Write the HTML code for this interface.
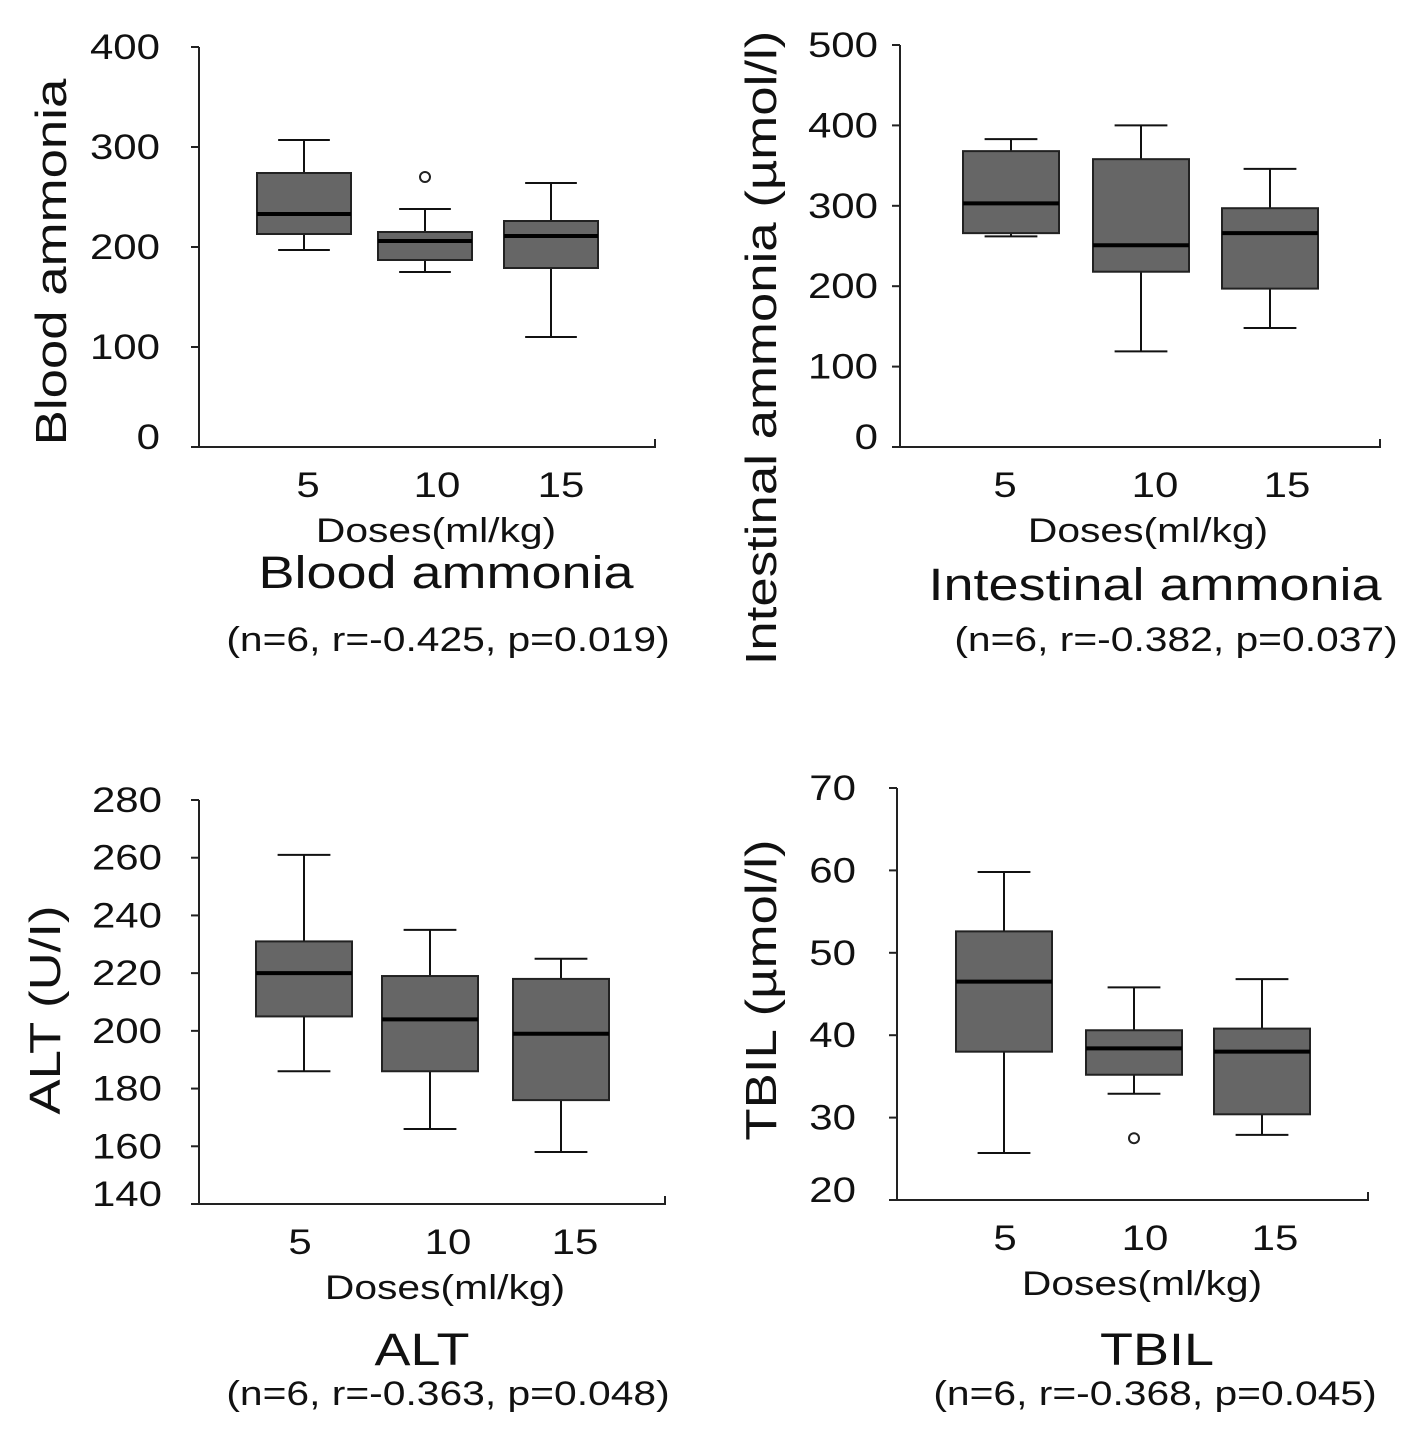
<!DOCTYPE html>
<html><head><meta charset="utf-8"><style>
body{margin:0;background:#fff}
svg text{font-family:"Liberation Sans",Arial,sans-serif;fill:#111}
</style></head><body>
<svg id="s" width="1417" height="1437" viewBox="0 0 1417 1437"></svg>
<script>
const categories=["5","10","15"];
const bloodStats=[[197,213,233,274,307],[175,187,206,215,238],[110,179,211,226,264]];
const bloodOutliers=[[],[270],[]];
const intestStats=[[262,266,303,368,383],[119,218,251,358,400],[148,197,266,297,346]];
const intestOutliers=[[],[],[]];
const altStats=[[186,205,220,231,261],[166,186,204,219,235],[158,176,199,218,225]];
const altOutliers=[[],[],[]];
const tbilStats=[[25.7,38,46.5,52.6,59.8],[32.9,35.2,38.4,40.6,45.8],[27.9,30.4,38,40.8,46.8]];
const tbilOutliers=[[],[27.5],[]];
const bloodTicks=[0,100,200,300,400];
const intestTicks=[0,100,200,300,400,500];
const altTicks=[140,160,180,200,220,240,260,280];
const tbilTicks=[20,30,40,50,60,70];

const NS="http://www.w3.org/2000/svg";
const svg=document.getElementById('s');
const SX=1.2;
function mk(t,a,p){const e=document.createElementNS(NS,t);for(const k in a)e.setAttribute(k,a[k]);(p||svg).appendChild(e);return e;}
function txt(s,x,y,size,anchor,p,rot){const e=mk('text',{x:0,y:0,'font-size':size,'text-anchor':anchor||'middle'},p);
  e.setAttribute('transform',rot?`translate(${x} ${y}) rotate(-90) scale(${SX} 1)`:`translate(${x} ${y}) scale(${SX} 1)`);
  e.textContent=s;return e;}

function panel(o){
  const g=mk('g',{});
  
  
  const y=v=>o.y0-(v-o.vmin)/(o.vmax-o.vmin)*(o.y0-o.y1);
  const ax=mk('path',{d:`M${o.ax} ${o.y1}V${o.y0}H${o.ax2}V${o.y0-8}`,stroke:'#222','stroke-width':2,fill:'none'},g);
  
  
  o.ticks.forEach(t=>{
    mk('line',{x1:o.ax-8,x2:o.ax,y1:y(t),y2:y(t),stroke:'#222','stroke-width':2},g);
    const l=txt(String(t),o.tx,y(t)+(t===o.vmin?2:12),35,'end',g);
    
    
  });
  categories.forEach((c,i)=>{
    const cx=o.cx[i],hw=o.hw,s=o.stats[i];
    const b=mk('g',{},g);
    
    
    mk('line',{x1:cx,x2:cx,y1:y(s[4]),y2:y(s[0]),stroke:'#111','stroke-width':2},b);
    mk('line',{x1:cx-hw*0.55,x2:cx+hw*0.55,y1:y(s[4]),y2:y(s[4]),stroke:'#111','stroke-width':2},b);
    mk('line',{x1:cx-hw*0.55,x2:cx+hw*0.55,y1:y(s[0]),y2:y(s[0]),stroke:'#111','stroke-width':2},b);
    mk('rect',{x:cx-hw,y:y(s[3]),width:2*hw,height:y(s[1])-y(s[3]),fill:'#666',stroke:'#222','stroke-width':2},b);
    mk('line',{x1:cx-hw,x2:cx+hw,y1:y(s[2]),y2:y(s[2]),stroke:'#000','stroke-width':4},b);
    o.out[i].forEach(v=>{const p=mk('circle',{cx:cx,cy:y(v),r:5,fill:'#fff',stroke:'#222','stroke-width':2},b);
      });
    const l=txt(c,o.lx[i],o.y0+50,35,'middle',g);
    
    
  });
  let e=txt('Doses(ml/kg)',o.dx,o.y0+95,34,'middle',g);
  
  e=txt(o.ytitle,o.ytx,o.yty,44,'middle',g,true);
  
  e=txt(o.title,o.tix,o.tiy,45,'middle',g);
  
  e=txt(o.stat,o.stx,o.sty,34,'middle',g);
  
}
panel({name:'blood-ammonia-panel',ax:199,ax2:655,y0:447,y1:47,vmin:0,vmax:400,ticks:bloodTicks,tx:160,cx:[304,425,551],lx:[308,437,561],hw:47,stats:bloodStats,out:bloodOutliers,dx:436,ytitle:'Blood ammonia',ytx:66,yty:262,title:'Blood ammonia',tix:446,tiy:588,stat:'(n=6, r=-0.425, p=0.019)',stx:448,sty:651});
panel({name:'intestinal-ammonia-panel',ax:900,ax2:1380,y0:447,y1:45,vmin:0,vmax:500,ticks:intestTicks,tx:878,cx:[1011,1141,1270],lx:[1005,1155,1287],hw:48,stats:intestStats,out:intestOutliers,dx:1148,ytitle:'Intestinal ammonia (µmol/l)',ytx:776,yty:348,title:'Intestinal ammonia',tix:1155,tiy:600,stat:'(n=6, r=-0.382, p=0.037)',stx:1176,sty:651});
panel({name:'alt-panel',ax:199,ax2:665,y0:1204,y1:800,vmin:140,vmax:280,ticks:altTicks,tx:162,cx:[304,430,561],lx:[300,448,575],hw:48,stats:altStats,out:altOutliers,dx:445,ytitle:'ALT (U/I)',ytx:60,yty:1010,title:'ALT',tix:422,tiy:1365,stat:'(n=6, r=-0.363, p=0.048)',stx:448,sty:1405});
panel({name:'tbil-panel',ax:897,ax2:1368,y0:1200,y1:788,vmin:20,vmax:70,ticks:tbilTicks,tx:856,cx:[1004,1134,1262],lx:[1005,1145,1275],hw:48,stats:tbilStats,out:tbilOutliers,dx:1142,ytitle:'TBIL (µmol/l)',ytx:776,yty:990,title:'TBIL',tix:1157,tiy:1365,stat:'(n=6, r=-0.368, p=0.045)',stx:1155,sty:1405});
</script>
</body></html>
